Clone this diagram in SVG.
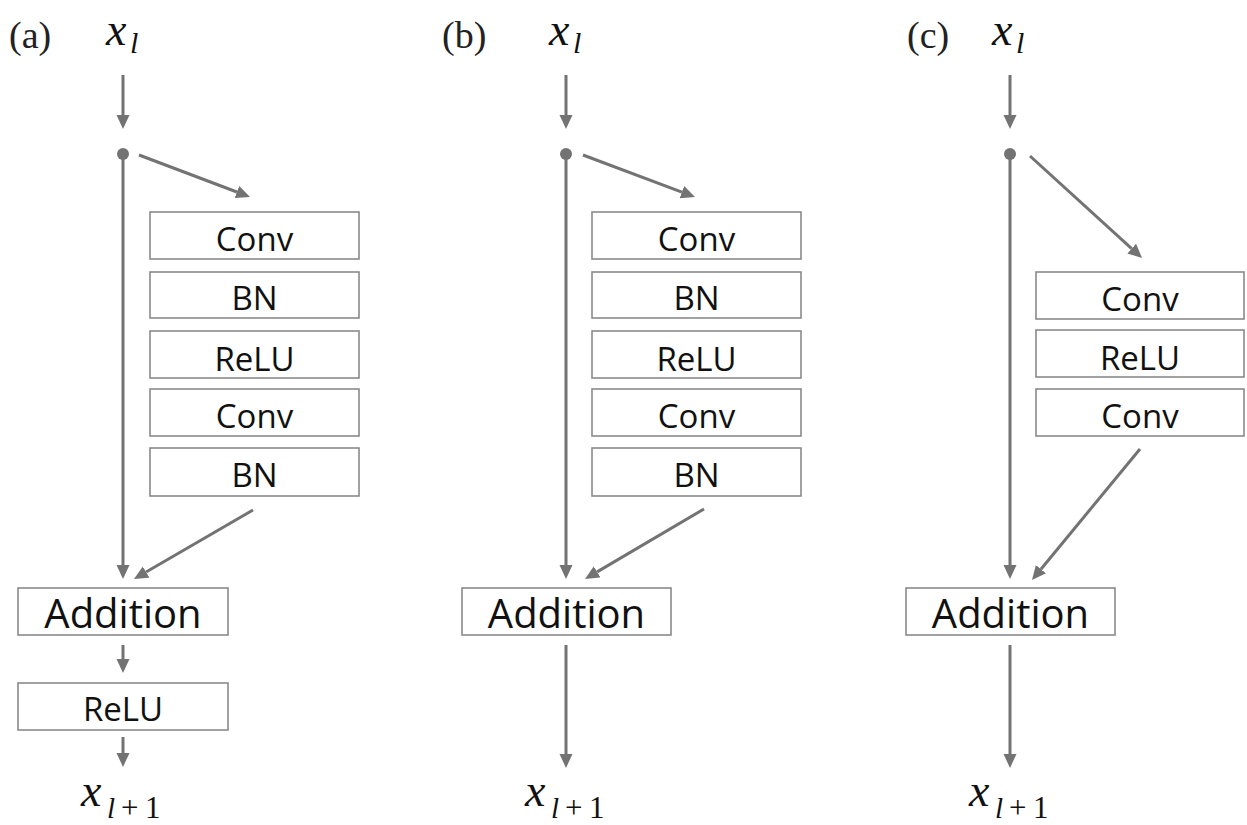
<svg xmlns="http://www.w3.org/2000/svg" width="1247" height="825" viewBox="0 0 1247 825">
<style>
.bx{fill:#fff;stroke:#8a8a8a;stroke-width:1.6}
.lb{font-family:"Open Sans","Noto Sans",sans-serif;font-size:33px;fill:#111;text-anchor:middle}
.add{font-size:40px}
.cn line{stroke:#737373;stroke-width:3;marker-end:url(#ah)}
.mx{font-family:"Liberation Serif","Times New Roman",serif;fill:#111}
.it{font-style:italic}
.pl{font-family:"Liberation Serif","Times New Roman",serif;font-size:38px;fill:#222}
</style>
<defs>
<marker id="ah" markerUnits="userSpaceOnUse" markerWidth="16" markerHeight="14" refX="0" refY="6.5" orient="auto">
<path d="M0,0 L14,6.5 L0,13 z" fill="#737373"/>
</marker>
</defs>
<rect width="1247" height="825" fill="#fff"/>

<!-- labels -->
<g id="panel-labels">
<text class="pl" x="9" y="48">(a)</text>
<text class="pl" x="442" y="48">(b)</text>
<text class="pl" x="907" y="48">(c)</text>
</g>

<!-- inputs / outputs -->
<g id="xa-in"><text class="mx" y="45"><tspan class="it" x="106" font-size="46">x</tspan><tspan class="it" x="130" y="53" font-size="30">l</tspan></text></g>
<g id="xb-in"><text class="mx" y="45"><tspan class="it" x="549" font-size="46">x</tspan><tspan class="it" x="573" y="53" font-size="30">l</tspan></text></g>
<g id="xc-in"><text class="mx" y="45"><tspan class="it" x="992" font-size="46">x</tspan><tspan class="it" x="1016" y="53" font-size="30">l</tspan></text></g>

<g id="xa-out"><text class="mx" y="806"><tspan class="it" x="81" font-size="46">x</tspan><tspan class="it" x="107" y="818" font-size="29">l</tspan><tspan x="121" y="818" font-size="31">+</tspan><tspan x="145" y="818" font-size="31">1</tspan></text></g>
<g id="xb-out"><text class="mx" y="806"><tspan class="it" x="525" font-size="46">x</tspan><tspan class="it" x="551" y="818" font-size="29">l</tspan><tspan x="565" y="818" font-size="31">+</tspan><tspan x="589" y="818" font-size="31">1</tspan></text></g>
<g id="xc-out"><text class="mx" y="806"><tspan class="it" x="969" font-size="46">x</tspan><tspan class="it" x="995" y="818" font-size="29">l</tspan><tspan x="1009" y="818" font-size="31">+</tspan><tspan x="1033" y="818" font-size="31">1</tspan></text></g>

<!-- panel a nodes -->
<g id="a-conv1"><rect class="bx" x="150" y="212" width="209" height="47"/><text class="lb" x="254.5" y="251">Conv</text></g>
<g id="a-bn1"><rect class="bx" x="150" y="272" width="209" height="46"/><text class="lb" x="254.5" y="310">BN</text></g>
<g id="a-relu"><rect class="bx" x="150" y="331" width="209" height="47"/><text class="lb" x="254.5" y="371">ReLU</text></g>
<g id="a-conv2"><rect class="bx" x="150" y="389" width="209" height="47"/><text class="lb" x="254.5" y="428">Conv</text></g>
<g id="a-bn2"><rect class="bx" x="150" y="448" width="209" height="48"/><text class="lb" x="254.5" y="487">BN</text></g>
<g id="a-add"><rect class="bx" x="18" y="588" width="210" height="47"/><text class="lb add" x="123" y="628">Addition</text></g>
<g id="a-relu2"><rect class="bx" x="18" y="683" width="210" height="47"/><text class="lb" x="123" y="721">ReLU</text></g>

<!-- panel b nodes -->
<g id="b-conv1"><rect class="bx" x="592" y="212" width="209" height="47"/><text class="lb" x="696.5" y="251">Conv</text></g>
<g id="b-bn1"><rect class="bx" x="592" y="272" width="209" height="46"/><text class="lb" x="696.5" y="310">BN</text></g>
<g id="b-relu"><rect class="bx" x="592" y="331" width="209" height="47"/><text class="lb" x="696.5" y="371">ReLU</text></g>
<g id="b-conv2"><rect class="bx" x="592" y="389" width="209" height="47"/><text class="lb" x="696.5" y="428">Conv</text></g>
<g id="b-bn2"><rect class="bx" x="592" y="448" width="209" height="48"/><text class="lb" x="696.5" y="487">BN</text></g>
<g id="b-add"><rect class="bx" x="462" y="588" width="209" height="47"/><text class="lb add" x="566.5" y="628">Addition</text></g>

<!-- panel c nodes -->
<g id="c-conv1"><rect class="bx" x="1036" y="272" width="208" height="47"/><text class="lb" x="1140" y="311">Conv</text></g>
<g id="c-relu"><rect class="bx" x="1036" y="330" width="208" height="47"/><text class="lb" x="1140" y="370">ReLU</text></g>
<g id="c-conv2"><rect class="bx" x="1036" y="389" width="208" height="47"/><text class="lb" x="1140" y="428">Conv</text></g>
<g id="c-add"><rect class="bx" x="906" y="588" width="209" height="47"/><text class="lb add" x="1010.5" y="628">Addition</text></g>

<!-- connectors -->
<g id="connectors" class="cn">
<circle cx="123" cy="154" r="6" fill="#737373"/>
<circle cx="566" cy="154" r="6" fill="#737373"/>
<circle cx="1010" cy="154" r="6" fill="#737373"/>
<line x1="123" y1="75" x2="123" y2="115"/>
<line x1="139" y1="155" x2="236.9" y2="192"/>
<line x1="123" y1="154" x2="123" y2="565"/>
<line x1="253" y1="510" x2="146.1" y2="572"/>
<line x1="123" y1="645" x2="123" y2="659"/>
<line x1="123" y1="737" x2="123" y2="753"/>

<line x1="566" y1="75" x2="566" y2="115"/>
<line x1="583" y1="155" x2="681.9" y2="192.1"/>
<line x1="566" y1="154" x2="566" y2="565"/>
<line x1="704" y1="509" x2="597.1" y2="571.9"/>
<line x1="566" y1="645" x2="566" y2="754"/>

<line x1="1010" y1="75" x2="1010" y2="115"/>
<line x1="1030" y1="156" x2="1131.7" y2="248.6"/>
<line x1="1010" y1="154" x2="1010" y2="565"/>
<line x1="1140" y1="449" x2="1040.9" y2="569.2"/>
<line x1="1010" y1="645" x2="1010" y2="754"/>
</g>
</svg>
